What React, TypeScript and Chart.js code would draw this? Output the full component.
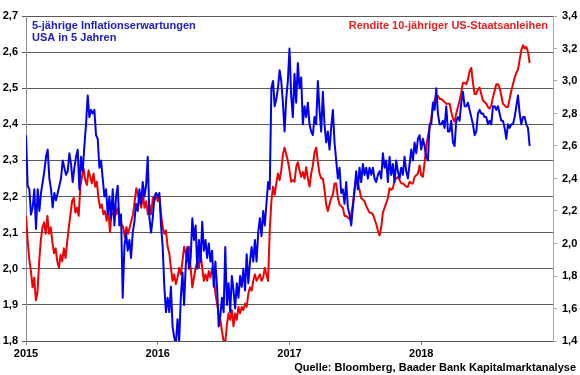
import React, { useEffect, useRef } from 'react';
import { Chart, registerables } from 'chart.js';

Chart.register(...registerables);

// Sample years (x axis runs from 2015 to 2019, decimal years)
const years = [2015, 2016, 2017, 2018];
const samplesPerYearLast = 79; // spacing for the partial last year
const xTicks = [2015, 2016, 2017, 2018];

// 5-jährige Inflationserwartungen USA in 5 Jahren (left axis, %)
const infl2015 = [
  2.37, 2.23, 2.22, 2.15, 2.17, 2.22, 2.11, 2.22, 2.16, 2.21,
  2.24, 2.27, 2.31, 2.33, 2.25, 2.22, 2.17, 2.21, 2.19, 2.21,
  2.23, 2.25, 2.30, 2.28, 2.26, 2.27, 2.32, 2.29, 2.24, 2.28,
  2.31, 2.33, 2.22, 2.31, 2.27, 2.34, 2.40, 2.48, 2.42, 2.44,
  2.43, 2.44, 2.37, 2.36, 2.28, 2.30, 2.25, 2.20, 2.22, 2.15,
  2.20, 2.14, 2.22, 2.12, 2.20, 2.23, 2.12, 2.15, 1.92, 2.06,
  2.10, 2.05, 2.08, 2.03, 2.10, 2.13, 2.18, 2.16, 2.22, 2.18,
  2.24, 2.20, 2.23, 2.31, 2.14, 2.10, 2.14, 2.20, 2.21,
];
const infl2016 = [
  2.20, 2.21, 2.12, 2.06, 1.95, 1.88, 1.92, 1.88, 1.95, 1.84,
  1.81, 1.79, 1.86, 1.80, 1.92, 1.99, 1.90, 2.01, 2.06, 2.00,
  2.03, 2.14, 2.08, 2.12, 2.00, 2.08, 2.02, 2.13, 2.05, 2.08,
  2.03, 2.07, 2.02, 2.05, 1.95, 2.02, 1.95, 1.84, 1.87, 1.92,
  1.88, 2.06, 1.90, 1.96, 1.88, 1.98, 1.94, 1.89, 1.96, 1.92,
  1.98, 1.95, 2.00, 1.94, 2.04, 1.96, 2.02, 2.06, 2.02, 2.08,
  2.02, 2.10, 2.14, 2.09, 2.16, 2.12, 2.18, 2.24, 2.22, 2.50,
  2.52, 2.45, 2.47, 2.50, 2.55, 2.52, 2.46, 2.38, 2.47, 2.52,
];
const infl2017 = [
  2.61, 2.48, 2.42, 2.54, 2.46, 2.57, 2.50, 2.53, 2.40, 2.45,
  2.42, 2.46, 2.40, 2.38, 2.37, 2.42, 2.40, 2.52, 2.44, 2.38,
  2.49, 2.40, 2.35, 2.38, 2.33, 2.39, 2.44, 2.35, 2.30, 2.25,
  2.28, 2.21, 2.22, 2.18, 2.24, 2.17, 2.15, 2.12, 2.17, 2.22,
  2.27, 2.22, 2.28, 2.24, 2.29, 2.26, 2.28, 2.25, 2.28, 2.26,
  2.28, 2.25, 2.24, 2.26, 2.27, 2.25, 2.32, 2.28, 2.30, 2.24,
  2.31, 2.26, 2.29, 2.24, 2.30, 2.27, 2.25, 2.28, 2.26, 2.31,
  2.27, 2.25, 2.29, 2.33, 2.30, 2.35, 2.32, 2.36, 2.37,
];
const infl2018 = [
  2.33, 2.36, 2.34, 2.31, 2.30, 2.40, 2.40, 2.46, 2.44, 2.50,
  2.43, 2.40, 2.40, 2.41, 2.39, 2.45, 2.38, 2.38, 2.41, 2.35,
  2.34, 2.41, 2.42, 2.41, 2.46, 2.49, 2.45, 2.45, 2.46, 2.44,
  2.42, 2.40, 2.37, 2.38, 2.43, 2.44, 2.43, 2.43, 2.42, 2.42,
  2.40, 2.41, 2.40, 2.45, 2.45, 2.44, 2.45, 2.43, 2.41, 2.41,
  2.39, 2.36, 2.40, 2.39, 2.40, 2.40, 2.42, 2.45, 2.48, 2.43,
  2.40, 2.42, 2.42, 2.40, 2.39, 2.34,
];

// Rendite 10-jähriger US-Staatsanleihen (right axis, %)
const yield2015 = [
  2.17, 2.02, 1.90, 1.83, 1.73, 1.79, 1.65, 1.70, 1.89, 2.02,
  2.10, 2.13, 2.06, 2.17, 2.06, 2.10, 2.01, 1.94, 1.97, 1.89,
  1.85, 1.93, 1.89, 1.97, 1.91, 2.01, 2.10, 2.18, 2.26, 2.28,
  2.19, 2.22, 2.17, 2.35, 2.41, 2.46, 2.39, 2.36, 2.45, 2.41,
  2.37, 2.43, 2.35, 2.38, 2.28, 2.22, 2.24, 2.18, 2.20, 2.14,
  2.21, 2.07, 2.19, 2.18, 2.24, 2.18, 2.22, 2.16, 2.12, 2.10,
  2.04, 2.10, 2.06, 2.10, 2.14, 2.18, 2.26, 2.34, 2.30, 2.26,
  2.22, 2.30, 2.22, 2.26, 2.18, 2.24, 2.18, 2.28, 2.26, 2.30,
];
const yield2016 = [
  2.26, 2.29, 2.18, 2.10, 2.06, 2.08, 1.98, 1.94, 1.85, 1.77,
  1.81, 1.75, 1.79, 1.85, 1.81, 1.89, 1.98, 1.94, 1.89, 1.98,
  1.85, 1.73, 1.79, 1.85, 1.89, 1.85, 1.94, 1.85, 1.77, 1.81,
  1.77, 1.83, 1.79, 1.85, 1.81, 1.69, 1.63, 1.57, 1.53, 1.46,
  1.40, 1.39, 1.50, 1.57, 1.53, 1.59, 1.49, 1.57, 1.53, 1.61,
  1.57, 1.61, 1.59, 1.63, 1.61, 1.69, 1.73, 1.71, 1.77, 1.81,
  1.77, 1.79, 1.81, 1.77, 1.79, 1.85, 1.81, 1.77, 2.08, 2.26,
  2.35, 2.30, 2.37, 2.43, 2.39, 2.45, 2.55, 2.59, 2.55, 2.51,
];
const yield2017 = [
  2.45, 2.38, 2.39, 2.38, 2.47, 2.50, 2.45, 2.41, 2.44, 2.40,
  2.47, 2.40, 2.35, 2.43, 2.48, 2.56, 2.59, 2.50, 2.43, 2.40,
  2.40, 2.33, 2.24, 2.20, 2.24, 2.28, 2.30, 2.37, 2.37, 2.28,
  2.24, 2.23, 2.22, 2.17, 2.17, 2.16, 2.15, 2.18, 2.24, 2.33,
  2.38, 2.37, 2.33, 2.28, 2.27, 2.26, 2.23, 2.21, 2.19, 2.19,
  2.18, 2.15, 2.12, 2.08, 2.05, 2.10, 2.19, 2.22, 2.25, 2.28,
  2.34, 2.33, 2.34, 2.39, 2.40, 2.41, 2.39, 2.37, 2.37, 2.36,
  2.35, 2.35, 2.38, 2.37, 2.37, 2.41, 2.42, 2.43, 2.48,
];
const yield2018 = [
  2.42, 2.41, 2.50, 2.60, 2.66, 2.71, 2.77, 2.84, 2.88, 2.91,
  2.91, 2.89, 2.89, 2.88, 2.87, 2.86, 2.86, 2.86, 2.81, 2.77,
  2.75, 2.80, 2.84, 2.88, 2.93, 2.99, 2.99, 2.98, 3.01, 3.06,
  3.08, 2.99, 2.92, 2.92, 2.95, 2.96, 2.92, 2.88, 2.87, 2.86,
  2.84, 2.83, 2.85, 2.90, 2.94, 2.98, 2.98, 2.96, 2.91, 2.86,
  2.85, 2.84, 2.84, 2.89, 2.94, 2.98, 3.02, 3.05, 3.07, 3.13,
  3.19, 3.22, 3.20, 3.21, 3.18, 3.11,
];

const titleBlue1 = '5-jährige Inflationserwartungen';
const titleBlue2 = 'USA in 5 Jahren';
const titleRed = 'Rendite 10-jähriger US-Staatsanleihen';
const sourceText = 'Quelle: Bloomberg, Baader Bank Kapitalmarktanalyse';

function buildPoints(segments: number[][]) {
  const pts: { x: number; y: number }[] = [];
  segments.forEach((seg, k) => {
    const n = k < segments.length - 1 ? seg.length : samplesPerYearLast;
    seg.forEach((v, i) => pts.push({ x: years[k] + i / n, y: v }));
  });
  return pts;
}

const fmt = (v: number) => v.toFixed(1).replace('.', ',');
const FONT = '"Liberation Sans", Arial, sans-serif';

export default function App() {
  const ref = useRef<HTMLCanvasElement | null>(null);

  useEffect(() => {
    document.body.style.margin = '0';
    const canvas = ref.current;
    if (!canvas) return;

    const textPlugin = {
      id: 'texts',
      afterDraw(chart: any) {
        const ctx = chart.ctx;
        const area = chart.chartArea;
        ctx.save();
        ctx.font = `bold 11px ${FONT}`;
        ctx.textBaseline = 'alphabetic';
        ctx.fillStyle = '#2020c8';
        ctx.textAlign = 'left';
        ctx.fillText(titleBlue1, area.left + 6, area.top + 13);
        ctx.fillText(titleBlue2, area.left + 6, area.top + 25);
        ctx.fillStyle = '#e82020';
        ctx.textAlign = 'right';
        ctx.fillText(titleRed, area.right - 5, area.top + 13);
        ctx.fillStyle = '#000000';
        ctx.fillText(sourceText, chart.width - 4, chart.height - 4);
        ctx.restore();
      },
    };

    const chart = new Chart(canvas, {
      type: 'line',
      data: {
        datasets: [
          {
            label: titleBlue1,
            data: buildPoints([infl2015, infl2016, infl2017, infl2018]),
            borderColor: '#0000f0',
            borderWidth: 2,
            pointRadius: 0,
            tension: 0,
            borderJoinStyle: 'round',
            yAxisID: 'y',
          },
          {
            label: titleRed,
            data: buildPoints([yield2015, yield2016, yield2017, yield2018]),
            borderColor: '#f00000',
            borderWidth: 2,
            pointRadius: 0,
            tension: 0,
            borderJoinStyle: 'round',
            yAxisID: 'y1',
          },
        ],
      },
      options: {
        animation: false,
        responsive: false,
        layout: { padding: { top: 16, left: 0, right: 0, bottom: 0 } },
        plugins: {
          legend: { display: false },
          tooltip: { enabled: false },
        },
        scales: {
          x: {
            type: 'linear',
            min: 2015,
            max: 2019,
            afterBuildTicks: (scale: any) => {
              scale.ticks = xTicks.map((v) => ({ value: v }));
            },
            afterFit: (scale: any) => {
              scale.height = 34;
            },
            ticks: {
              callback: (v: any) => String(v),
              color: '#000',
              font: { family: FONT, size: 11, weight: 'bold' },
              padding: 2,
              maxRotation: 0,
              autoSkip: false,
            },
            grid: {
              drawOnChartArea: false,
              drawTicks: true,
              tickLength: 4,
              color: '#888',
            },
            border: { display: true, color: '#555' },
          },
          y: {
            position: 'left',
            min: 1.8,
            max: 2.7,
            afterFit: (scale: any) => {
              scale.width = 26;
            },
            ticks: {
              stepSize: 0.1,
              callback: (v: any) => fmt(Number(v)),
              color: '#000',
              font: { family: FONT, size: 11, weight: 'bold' },
              padding: 4,
            },
            grid: {
              color: '#5a5a5a',
              lineWidth: 1,
              drawTicks: true,
              tickLength: 4,
            },
            border: { display: true, color: '#8a8a8a' },
          },
          y1: {
            position: 'right',
            min: 1.4,
            max: 3.4,
            afterFit: (scale: any) => {
              scale.width = 27;
            },
            ticks: {
              stepSize: 0.2,
              callback: (v: any) => fmt(Number(v)),
              color: '#000',
              font: { family: FONT, size: 11, weight: 'bold' },
              padding: 5,
            },
            grid: {
              drawOnChartArea: false,
              drawTicks: true,
              tickLength: 4,
              color: '#aaa',
            },
            border: { display: true, color: '#aaa' },
          },
        },
      } as any,
      plugins: [textPlugin],
    });

    return () => chart.destroy();
  }, []);

  return (
    <div style={{ width: 580, height: 375, background: '#fff' }}>
      <canvas ref={ref} width={580} height={375} style={{ display: 'block' }} />
    </div>
  );
}
